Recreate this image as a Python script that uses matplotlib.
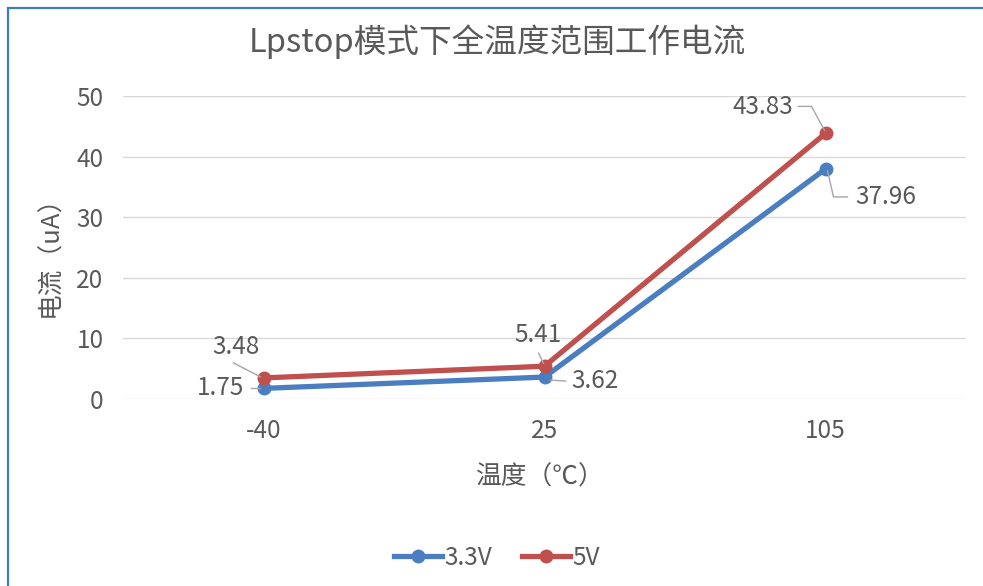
import matplotlib
matplotlib.use("Agg")
import matplotlib.pyplot as plt
from matplotlib.lines import Line2D
from matplotlib.patches import Rectangle

plt.rcParams['font.family'] = ['Noto Sans CJK SC', 'DejaVu Sans']

temps = ["-40", "25", "105"]
cur_33v = [1.75, 3.62, 37.96]
cur_5v = [3.48, 5.41, 43.83]
series_names = ["3.3V", "5V"]
yticks = [0, 10, 20, 30, 40, 50]

blue = "#4A7EC1"
red = "#C0504D"
gray_txt = "#595959"
lead_col = "#A6A6A6"

# label placement per point (pixel offsets from the marker): text centre, leader path
lab_33v = [((-43, 0), [(-13, 0), (-4, 0)]),
           ((51, -4), [(6, -3), (21, -4)]),
           ((60, -28), [(2, -2), (8, -28), (22, -28)])]
lab_5v = [((-28, 31), [(-30, 15), (-3, 1)]),
          ((-7, 31), [(-6, 13), (-1, 3)]),
          ((-63, 26), [(-27, 27), (-14, 27), (-1, 3)])]

W, H = 983, 586
fig = plt.figure(figsize=(W / 100, H / 100), dpi=100)
ax = fig.add_axes([123 / W, 1 - 399 / H, (966 - 123) / W, (399 - 96) / H])

x = list(range(len(temps)))
ax.set_xlim(-0.5, 2.5)
ax.set_ylim(0, 50)

for vals, col, labs in [(cur_33v, blue, lab_33v), (cur_5v, red, lab_5v)]:
    ax.plot(x, vals, color=col, lw=3.8, marker="o", ms=9, clip_on=False,
            solid_capstyle="round", zorder=3)
    for xi, v, (toff, path) in zip(x, vals, labs):
        ax.annotate(f"{v:.2f}", (xi, v), xytext=toff, textcoords="offset pixels",
                    ha="center", va="center", fontsize=17.5, color=gray_txt)
        px, py = ax.transData.transform((xi, v))
        fig.add_artist(Line2D([(px + dx) / W for dx, dy in path],
                              [(py + dy) / H for dx, dy in path],
                              transform=fig.transFigure, color=lead_col, lw=1.0,
                              zorder=4))

ax.set_xticks(x)
ax.set_xticklabels(temps)
ax.set_yticks(yticks)
ax.tick_params(length=0, labelsize=17.5, labelcolor=gray_txt)
ax.tick_params(axis="y", pad=14)
ax.tick_params(axis="x", pad=14)
for s in ax.spines.values():
    s.set_visible(False)
ax.grid(axis="y", color="#D9D9D9", lw=1.0)
ax.set_axisbelow(True)

fig.text(497 / W, 1 - 42 / H, "Lpstop模式下全温度范围工作电流", ha="center", va="center",
         fontsize=23.5, color=gray_txt)
fig.text(50 / W, 1 - 250 / H, "电流（uA）", rotation=90, ha="center", va="center",
         fontsize=18.5, color=gray_txt)
fig.text(540 / W, 1 - 478 / H, "温度（℃）", ha="center", va="center",
         fontsize=18.5, color=gray_txt)

handles = [Line2D([], [], color=c, lw=3.8, marker="o", ms=9) for c in (blue, red)]
fig.legend(handles, series_names, loc="center", bbox_to_anchor=(497 / W, 1 - 558 / H),
           ncol=2, frameon=False, fontsize=17.5, labelcolor=gray_txt,
           handlelength=2.0, handletextpad=0.1, columnspacing=1.2)

# outer chart frame
fig.add_artist(Rectangle((7.5 / W, -0.05), 1.1, 1 - 7.5 / H + 0.05, transform=fig.transFigure,
                         fill=False, edgecolor="#3D7CC0", lw=1.6))

fig.savefig("out.png", dpi=100)
